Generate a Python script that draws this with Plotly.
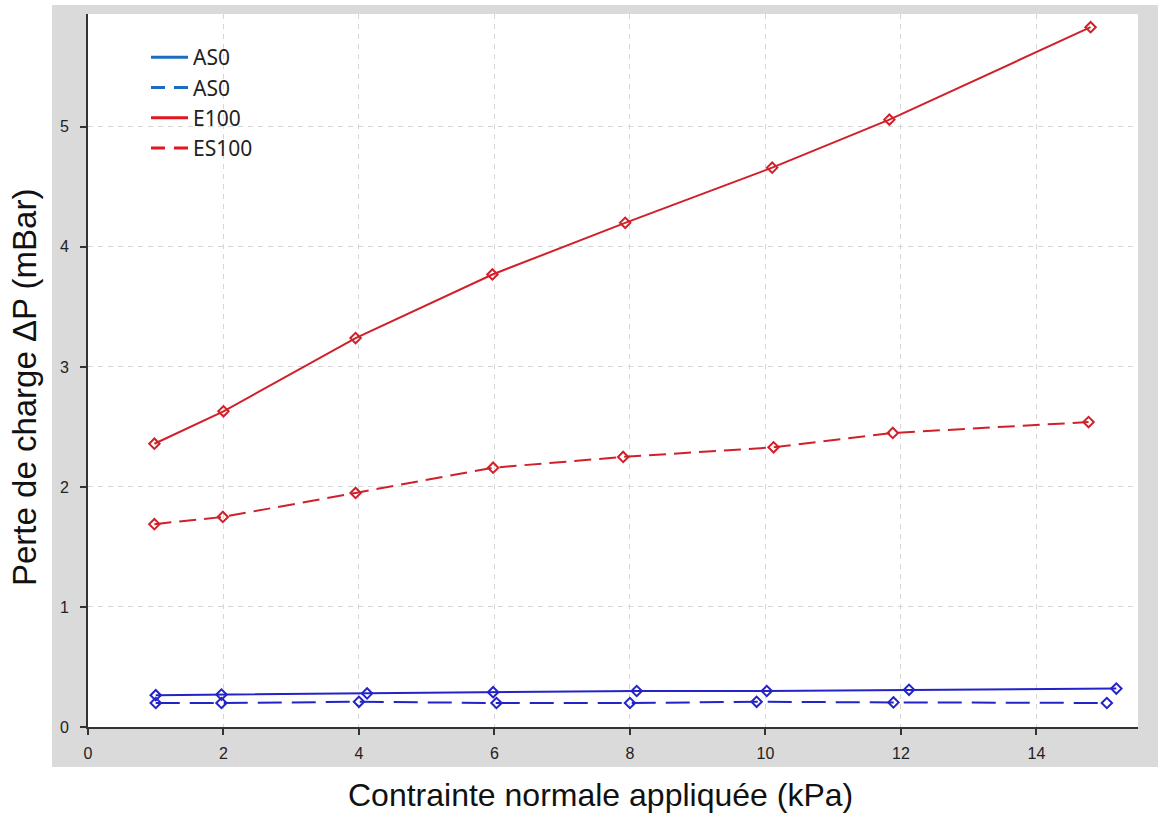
import plotly.graph_objects as go

# ---- data ----
x_as0_solid = [1.0, 1.97, 4.12, 5.98, 8.1, 10.02, 12.12, 15.18]
y_as0_solid = [0.265, 0.27, 0.28, 0.29, 0.30, 0.30, 0.31, 0.32]

x_as0_dash = [1.0, 1.97, 4.0, 6.03, 8.0, 9.87, 11.89, 15.04]
y_as0_dash = [0.20, 0.20, 0.21, 0.20, 0.20, 0.21, 0.205, 0.20]

x_e100 = [0.98, 2.0, 3.95, 5.97, 7.93, 10.1, 11.83, 14.8]
y_e100 = [2.36, 2.63, 3.24, 3.77, 4.20, 4.66, 5.06, 5.83]

x_es100 = [0.98, 1.99, 3.95, 5.98, 7.9, 10.12, 11.88, 14.77]
y_es100 = [1.69, 1.75, 1.95, 2.16, 2.25, 2.33, 2.45, 2.54]

legend_names = ["AS0", "AS0", "E100", "ES100"]
x_ticks = [0, 2, 4, 6, 8, 10, 12, 14]
y_ticks = [0, 1, 2, 3, 4, 5]
x_title = "Contrainte normale appliquée (kPa)"
y_title = "Perte de charge ΔP (mBar)"

BLUE = "#2323c8"
RED = "#d0202a"
LEG_BLUE = "#1a6dbf"
LEG_RED = "#e3141c"

fig = go.Figure()

series = [
    (x_as0_solid, y_as0_solid, BLUE, "solid"),
    (x_as0_dash, y_as0_dash, BLUE, "24px,10px"),
    (x_e100, y_e100, RED, "solid"),
    (x_es100, y_es100, RED, "17px,8px"),
]
for xs, ys, col, dash in series:
    fig.add_trace(go.Scatter(
        x=xs, y=ys, mode="lines+markers", showlegend=False,
        line=dict(color=col, width=2, dash=dash),
        marker=dict(symbol="diamond-open", size=8, color=col,
                    line=dict(width=2, color=col)),
    ))

# legend entries (line samples only)
leg_styles = [(LEG_BLUE, "solid"), (LEG_BLUE, "14px,9px"),
              (LEG_RED, "solid"), (LEG_RED, "14px,9px")]
for i, (name, (col, dash)) in enumerate(zip(legend_names, leg_styles)):
    fig.add_trace(go.Scatter(
        x=[None], y=[None], mode="lines", name=name, legendgroup=f"g{i}",
        line=dict(color=col, width=3, dash=dash),
    ))

W, H = 1158, 816
PL, PR, PT, PB = 88, 1138, 14, 727  # plot area in page pixels
L, T, R, B = PL, PT, W - PR, H - PB
pw = PR - PL
ph = PB - PT

def px_x(p):
    return (p - PL) / pw

def px_y(p):
    return (PB - p) / ph

# grey panel and white plot area
fig.add_shape(type="rect", xref="paper", yref="paper",
              x0=px_x(52), x1=px_x(1170), y0=px_y(767), y1=px_y(5),
              fillcolor="#dadada", line=dict(width=0), layer="below")
fig.add_shape(type="rect", xref="paper", yref="paper",
              x0=0, x1=1, y0=0, y1=1,
              fillcolor="white", line=dict(width=0), layer="below")

fig.add_annotation(text=x_title, xref="paper", yref="paper",
                   x=px_x(600), y=px_y(795), xanchor="center", yanchor="middle",
                   showarrow=False,
                   font=dict(family="Liberation Sans, Arial", size=32, color="#111"))
fig.add_annotation(text=y_title, xref="paper", yref="paper",
                   x=px_x(25), y=px_y(388), xanchor="center", yanchor="middle",
                   textangle=-90, showarrow=False,
                   font=dict(family="Liberation Sans, Arial", size=33, color="#111"))

axis_common = dict(
    showline=True, linecolor="#333", linewidth=2,
    ticks="outside", ticklen=6, tickwidth=2, tickcolor="#333",
    showgrid=True, gridcolor="#d6d6d6", gridwidth=1, griddash="5px,5px",
    zeroline=False, mirror=False,
    tickfont=dict(family="Liberation Sans, Arial", size=16, color="#222"),
)

fig.update_xaxes(range=[0, 15.5], tickvals=x_ticks, ticklabelstandoff=5, **axis_common)
fig.update_yaxes(range=[0, 5.94], tickvals=y_ticks, ticklabelstandoff=8, **axis_common)

fig.update_layout(
    width=W, height=H,
    margin=dict(l=L, r=R, t=T, b=B, autoexpand=False),
    paper_bgcolor="white", plot_bgcolor="rgba(0,0,0,0)",
    showlegend=True,
    legend=dict(x=px_x(146), y=px_y(37), xanchor="left", yanchor="top",
                bgcolor="rgba(0,0,0,0)", tracegroupgap=0, itemwidth=37,
                font=dict(family="Noto Sans, Liberation Sans", size=21, color="#222")),
)

fig.write_html("out.html", config={"displayModeBar": False},
               post_script="document.body.style.margin='0px';")
